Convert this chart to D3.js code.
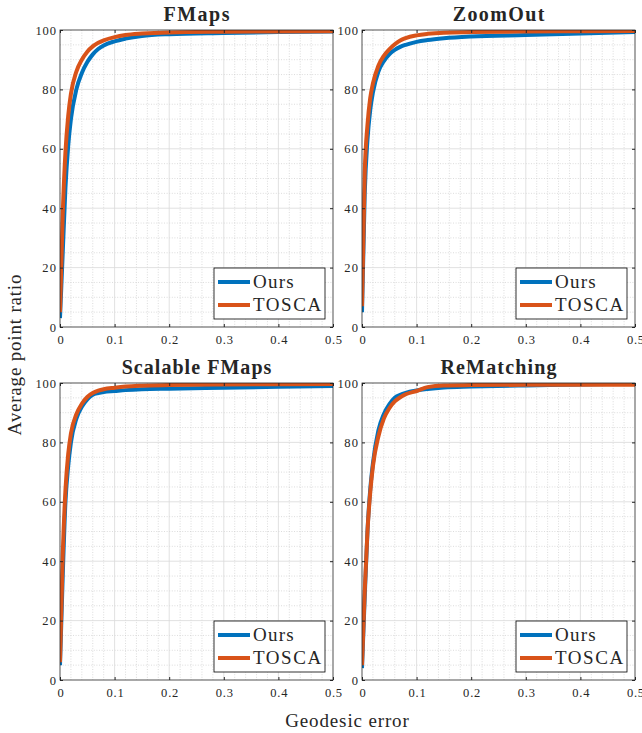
<!DOCTYPE html>
<html lang="en">
<head>
<meta charset="utf-8">
<title>Geodesic error curves</title>
<style type="text/css">
body { margin: 0; background: #fff; }
svg text { font-family: "Liberation Serif", "DejaVu Serif", serif; fill: #262626; }
.grid-major line { stroke: #d9d9d9; stroke-width: 0.8px; }
.grid-minor line { stroke: #c4c4c4; stroke-width: 0.6px; stroke-dasharray: 1,1.6; }
.frame { fill: none; stroke: #262626; stroke-width: 0.8px; }
.tick line { stroke: #262626; }
</style>
</head>
<body>
<svg width="642" height="733"></svg>
<script src="https://d3js.org/d3.v7.min.js"></script>
<script>
// error thresholds shared by every curve
var errors = [0, 0.005, 0.01, 0.015, 0.02, 0.03, 0.04, 0.05, 0.06, 0.07, 0.08, 0.1, 0.12, 0.15, 0.2, 0.3, 0.4, 0.5];

var titles = ["FMaps", "ZoomOut", "Scalable FMaps", "ReMatching"];
var seriesNames = ["Ours", "TOSCA"];
var xTicks = [0, 0.1, 0.2, 0.3, 0.4, 0.5];
var yTicks = [0, 20, 40, 60, 80, 100];

var fmapsOurs     = [3, 25, 47, 61, 70, 80, 85.5, 89.2, 91.8, 93.6, 94.8, 96.2, 97.1, 98, 98.6, 99, 99.3, 99.5];
var fmapsTosca    = [5, 38, 59, 71, 78.5, 86, 90, 92.7, 94.5, 95.7, 96.5, 97.6, 98.3, 98.8, 99.2, 99.4, 99.5, 99.6];
var zoomoutOurs   = [5, 45, 63, 73, 79, 86, 89.5, 91.8, 93.3, 94.3, 95, 96, 96.6, 97.2, 97.8, 98.3, 98.8, 99.3];
var zoomoutTosca  = [7, 52, 68, 77, 82, 88, 91.3, 93.5, 95.2, 96.5, 97.3, 98.2, 98.7, 99.1, 99.3, 99.5, 99.6, 99.7];
var scalableOurs  = [5, 35, 60, 72, 80, 88, 92, 94.5, 96, 96.6, 97, 97.3, 97.6, 97.9, 98.1, 98.4, 98.7, 99];
var scalableTosca = [6, 42, 64, 76, 83, 89.5, 93, 95.3, 96.6, 97.4, 97.9, 98.4, 98.8, 99.1, 99.3, 99.5, 99.6, 99.7];
var rematchOurs   = [4, 28, 50, 64, 73, 84, 89.5, 92.8, 95, 96, 96.7, 97.5, 98, 98.5, 98.8, 99.2, 99.5, 99.8];
var rematchTosca  = [5, 30, 50, 63, 72, 82, 88, 91.5, 93.8, 95.2, 96.2, 97.3, 98.6, 99.2, 99.3, 99.4, 99.4, 99.4];

var panelData = [
  [fmapsOurs, fmapsTosca],
  [zoomoutOurs, zoomoutTosca],
  [scalableOurs, scalableTosca],
  [rematchOurs, rematchTosca]
];
var colors = ["#0072BD", "#D95319"];
var serif = "'Liberation Serif', 'DejaVu Serif', serif";

var svg = d3.select("svg"),
    panelW = 273, panelH = 297,
    origins = [[60, 30], [362, 30], [60, 383], [362, 383]];

var x = d3.scaleLinear().domain([0, 0.5]).range([0, panelW]),
    y = d3.scaleLinear().domain([0, 100]).range([panelH, 0]);

var line = d3.line()
    .x(function(d) { return x(d[0]); })
    .y(function(d) { return y(d[1]); })
    .curve(d3.curveMonotoneX);

// Times is narrower than the LaTeX font of the original, stretch a bit
function widen(sel, f) {
  sel.each(function() {
    var w = this.getComputedTextLength();
    if (w > 0) d3.select(this).attr("textLength", w * f).attr("lengthAdjust", "spacing");
  });
}

svg.append("defs").append("clipPath").attr("id", "plotclip")
  .append("rect").attr("width", panelW).attr("height", panelH);

panelData.forEach(function(series, i) {
  var g = svg.append("g").attr("transform", "translate(" + origins[i][0] + "," + origins[i][1] + ")");

  // minor grid (dotted)
  var gm = g.append("g").attr("class", "grid-minor");
  gm.selectAll("line.vx").data(d3.range(0.02, 0.5, 0.02).filter(function(v) { return Math.abs(v * 10 - Math.round(v * 10)) > 1e-6; }))
    .enter().append("line")
      .attr("x1", function(d) { return x(d); }).attr("x2", function(d) { return x(d); })
      .attr("y1", 0).attr("y2", panelH);
  gm.selectAll("line.hy").data(d3.range(5, 100, 5).filter(function(v) { return v % 20 != 0; }))
    .enter().append("line")
      .attr("y1", function(d) { return y(d); }).attr("y2", function(d) { return y(d); })
      .attr("x1", 0).attr("x2", panelW);

  // major grid
  var gM = g.append("g").attr("class", "grid-major");
  gM.selectAll("line.vx").data(xTicks.slice(1, -1)).enter().append("line")
      .attr("x1", function(d) { return x(d); }).attr("x2", function(d) { return x(d); })
      .attr("y1", 0).attr("y2", panelH);
  gM.selectAll("line.hy").data(yTicks.slice(1, -1)).enter().append("line")
      .attr("y1", function(d) { return y(d); }).attr("y2", function(d) { return y(d); })
      .attr("x1", 0).attr("x2", panelW);

  // curves
  var curves = g.append("g").attr("clip-path", "url(#plotclip)");
  series.forEach(function(vals, k) {
    curves.append("path")
      .datum(errors.map(function(e, j) { return [e, vals[j]]; }))
      .attr("d", line)
      .attr("fill", "none")
      .attr("stroke", colors[k])
      .attr("stroke-width", 4)
      .attr("stroke-linejoin", "round");
  });

  // axes with inward ticks on all four sides
  var fmtX = function(d) { return d === 0 ? "0" : d3.format(".1f")(d); };
  var xb = g.append("g").attr("transform", "translate(0," + panelH + ")")
    .call(d3.axisBottom(x).tickValues(xTicks).tickFormat(fmtX).tickSizeInner(-3).tickSizeOuter(0).tickPadding(8));
  var yl = g.append("g")
    .call(d3.axisLeft(y).tickValues(yTicks).tickSizeInner(-3).tickSizeOuter(0).tickPadding(4));
  g.append("g").call(d3.axisTop(x).tickValues(xTicks).tickFormat("").tickSizeInner(-3).tickSizeOuter(0));
  g.append("g").attr("transform", "translate(" + panelW + ",0)")
    .call(d3.axisRight(y).tickValues(yTicks).tickFormat("").tickSizeInner(-3).tickSizeOuter(0));
  g.selectAll(".domain").remove();
  g.selectAll("g").attr("font-family", serif);
  [xb, yl].forEach(function(a) {
    a.selectAll("text").attr("font-family", serif).style("font-size", "12.5px").attr("fill", "#262626");
    widen(a.selectAll("text"), 1.1);
  });

  g.append("rect").attr("class", "frame").attr("width", panelW).attr("height", panelH);

  // title
  var t = g.append("text")
    .attr("x", panelW / 2).attr("y", -9)
    .attr("text-anchor", "middle")
    .attr("font-family", serif)
    .style("font-size", "20px").style("font-weight", "bold")
    .attr("fill", "#000")
    .text(titles[i]);
  widen(t, 1.1);

  // legend
  var lg = g.append("g").attr("transform", "translate(" + (panelW - 119) + "," + (panelH - 59) + ")");
  lg.append("rect").attr("width", 111).attr("height", 51)
    .attr("fill", "#fff").attr("stroke", "#000").attr("stroke-width", 0.8);
  seriesNames.forEach(function(name, k) {
    var ly = 14 + k * 23;
    lg.append("line").attr("x1", 4).attr("x2", 36).attr("y1", ly).attr("y2", ly)
      .attr("stroke", colors[k]).attr("stroke-width", 4);
    var lt = lg.append("text").attr("x", 39).attr("y", ly + 6)
      .attr("font-family", serif)
      .style("font-size", "19px").attr("fill", "#000").text(name);
    widen(lt, 1.1);
  });
});

var yt = svg.append("text")
  .attr("transform", "translate(21,355) rotate(-90)")
  .attr("text-anchor", "middle")
  .attr("font-family", serif)
  .style("font-size", "19px")
  .text("Average point ratio");
widen(yt, 1.1);

var xt = svg.append("text")
  .attr("x", 347).attr("y", 727)
  .attr("text-anchor", "middle")
  .attr("font-family", serif)
  .style("font-size", "19px")
  .text("Geodesic error");
widen(xt, 1.1);
</script>
</body>
</html>
